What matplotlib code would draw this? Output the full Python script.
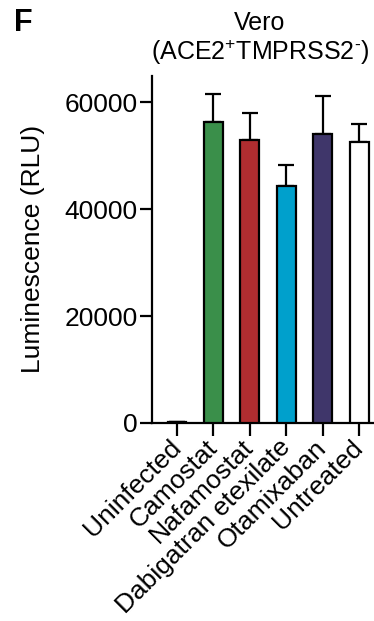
import matplotlib.pyplot as plt
import numpy as np

plt.rcParams['font.family'] = ['Liberation Sans', 'DejaVu Sans']
plt.rcParams['mathtext.fontset'] = 'custom'
plt.rcParams['mathtext.rm'] = 'Liberation Sans'

# values
groups = ['Uninfected', 'Camostat', 'Nafamostat', 'Dabigatran etexilate', 'Otamixaban', 'Untreated']
means = [200, 56300, 53000, 44400, 54100, 52600]
sems = [50, 5300, 5100, 3900, 7200, 3400]
colors = ['white', '#3a8f4a', '#b02d30', '#00a0cc', '#3f366a', 'white']

fig = plt.figure(figsize=(3.74, 6.21), dpi=100)
ax = fig.add_axes([0.406, 0.319, 0.594, 0.559])

x = np.arange(len(groups))
ax.bar(x, means, width=0.52, color=colors, edgecolor='black', linewidth=1.6, zorder=3)
ax.errorbar(x, means, yerr=[np.zeros(len(sems)), sems], fmt='none', ecolor='black',
            elinewidth=1.6, capsize=5.5, capthick=1.6, zorder=2)

ax.set_xlim(-0.69, 5.4)
ax.set_ylim(0, 65000)
ax.set_yticks([0, 20000, 40000, 60000])
ax.set_xticks(x)
ax.set_xticklabels(groups, rotation=45, ha='right', va='center', rotation_mode='anchor')
ax.tick_params(labelsize=19, width=1.6, length=9, pad=1)
ax.tick_params(axis='x', pad=6)
for s in ['top', 'right']:
    ax.spines[s].set_visible(False)
for s in ['left', 'bottom']:
    ax.spines[s].set_linewidth(1.6)

ax.set_ylabel('Luminescence (RLU)', fontsize=19, labelpad=14)
fig.text(0.695, 0.963, 'Vero', ha='center', va='center', fontsize=18)
fig.text(0.695, 0.915, r'(ACE2$^{\mathregular{+}}$TMPRSS2$^{\text{-}}$)',
         ha='center', va='center', fontsize=18)
fig.text(0.063, 0.963, 'F', ha='center', va='center', fontsize=22, fontweight='bold')

fig.savefig('out.png', dpi=100)
